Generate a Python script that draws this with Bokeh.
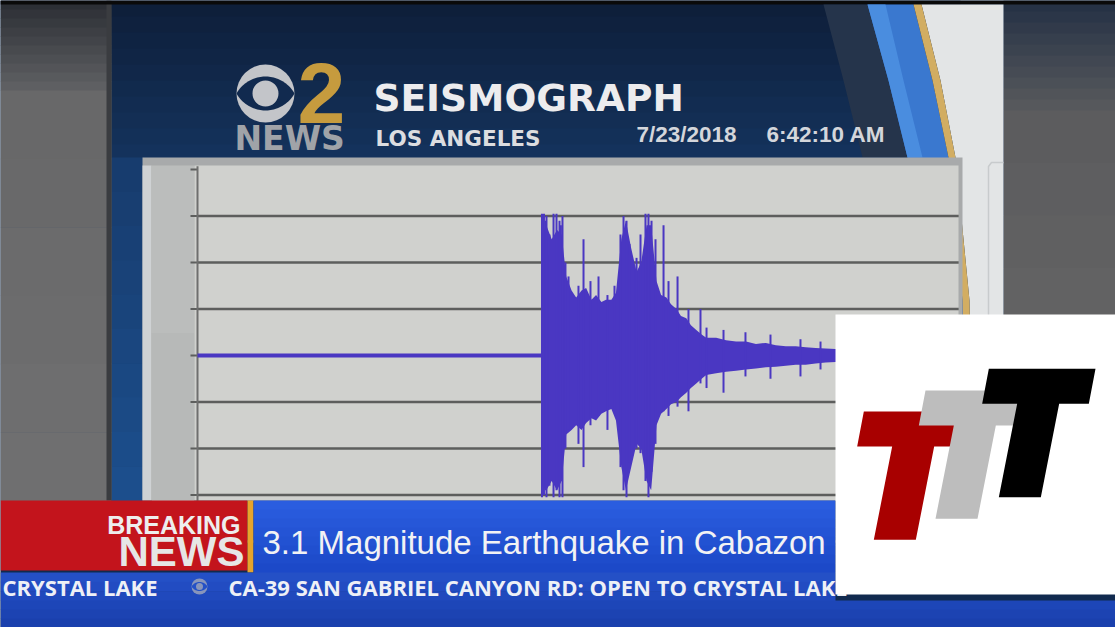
import numpy as np
from bokeh.plotting import figure
from bokeh.models import Range1d
from bokeh.core.properties import value
from bokeh.embed import file_html
from bokeh.resources import INLINE

# ---------------- data ----------------
# Seismograph trace: time (s) vs amplitude (grid divisions)
# dense core envelope of the signal
env_t = [0.0, 44.9, 45.0, 45.6, 46.3, 47.0, 47.6, 48.2, 48.9, 49.5, 50.2, 50.8,
         51.5, 52.1, 52.8, 53.4, 54.1, 54.7, 55.4, 56.0, 56.7, 57.4,
         58.0, 58.7, 59.3, 60.0, 60.6, 61.3, 61.9, 62.6, 63.2, 63.9,
         64.5, 65.2, 65.9, 66.5,
         67.8, 69.1, 70.4, 71.7, 73.0, 74.3, 75.6, 76.9, 78.2, 79.5,
         80.8, 82.1, 83.4, 86.0, 90.0, 95.0, 100.0]
env_up = [0.045, 0.045, 2.6, 2.8, 2.5, 2.7, 2.6, 1.7, 1.4, 1.25, 1.4, 1.45,
          1.2, 1.3, 1.15, 1.2, 1.2, 1.35, 2.5, 2.9, 2.3, 1.8,
          2.0, 2.8, 2.8, 1.6, 1.3, 1.25, 1.1, 1.0, 0.85, 0.8,
          0.65, 0.55, 0.45, 0.38,
          0.38, 0.33, 0.3, 0.3, 0.25, 0.27, 0.22, 0.2, 0.2, 0.18,
          0.16, 0.15, 0.14, 0.13, 0.12, 0.1, 0.1]
env_dn = [-0.045, -0.045, -2.8, -2.9, -2.7, -2.9, -2.7, -1.7, -1.6, -1.5, -1.6, -1.45,
          -1.35, -1.4, -1.25, -1.2, -1.15, -1.4, -2.4, -2.9, -2.4, -1.9,
          -2.0, -2.7, -2.9, -1.5, -1.25, -1.15, -1.05, -1.0, -0.9, -0.8,
          -0.7, -0.6, -0.5, -0.42,
          -0.38, -0.35, -0.33, -0.3, -0.28, -0.25, -0.24, -0.22, -0.2, -0.2,
          -0.17, -0.15, -0.14, -0.13, -0.12, -0.1, -0.1]
# individual peak excursions
spike_t = [45.03, 45.29, 45.5, 45.62, 46.01, 46.54, 46.93, 47.32, 47.5, 47.71, 48.10,
           48.50, 49.80, 50.46, 51.37, 52.42, 53.59, 54.51,
           55.29, 55.69, 56.08, 56.47, 56.99, 57.39, 57.91, 58.56, 58.95, 59.35,
           59.87, 60.92, 61.57, 62.75, 64.18, 65.75, 66.54, 68.76, 71.63, 74.90,
           78.82, 81.44]
spike_hi = [3.05, 3.05, 2.9, 3.0, 2.6, 3.05, 3.05, 2.9, 2.8, 3.0, 2.0,
            1.7, 1.5, 2.5, 1.6, 1.7, 1.3, 1.5,
            2.6, 3.0, 2.9, 2.4, 1.9, 2.1, 2.6, 3.05, 3.05, 2.9,
            2.5, 2.8, 1.6, 1.7, 1.0, 1.0, 0.6, 0.55, 0.5, 0.45,
            0.35, 0.3]
spike_lo = [-3.05, -3.0, -2.9, -3.05, -2.8, -3.05, -2.9, -3.05, -2.7, -3.05, -2.0,
            -1.6, -1.9, -2.4, -1.5, -1.3, -1.6, -1.2,
            -2.4, -2.9, -3.05, -2.3, -2.0, -2.0, -2.1, -2.7, -3.05, -2.5,
            -1.9, -1.2, -1.3, -1.1, -1.2, -0.6, -0.7, -0.8, -0.45, -0.5,
            -0.45, -0.3]
amp_ticks = [-4, -3, -2, -1, 0, 1, 2, 3, 4]
grid_ticks = [-4, -3, -2, -1, 0, 1, 2, 3]
t_start, t_end = 0.0, 100.0

title_text = "SEISMOGRAPH"
place_text = "LOS ANGELES"
date_text = "7/23/2018"
time_text = "6:42:10 AM"
logo_num = "2"
logo_word = "NEWS"
breaking_1 = "BREAKING"
breaking_2 = "NEWS"
headline = "3.1 Magnitude Earthquake in Cabazon"
ticker_left = "CRYSTAL LAKE"
ticker_right = "CA-39 SAN GABRIEL CANYON RD: OPEN TO CRYSTAL LAKE"

# ---------------- layout (reference pixel space) ----------------
W, H = 1115, 627
AX_X0, AX_X1 = 197, 962        # pixel of t_start / t_end
AMP0_Y, DIV = 355, 46.5        # pixel of amplitude 0, pixels per division
TRACE = "#4a37c2"
BASE_SHIFT = 0.34              # renderer places the alphabetic baseline this many em lower

p = figure(width=W, height=H,
           x_range=Range1d(0, W), y_range=Range1d(H, 0),
           x_axis_location=None, y_axis_location=None,
           output_backend="svg", toolbar_location=None, min_border=0,
           background_fill_color="#112a4f", border_fill_color="#112a4f")
p.grid.visible = False
p.outline_line_color = None

pxs = (AX_X1 - AX_X0) / (t_end - t_start)
p.extra_x_ranges = {"t": Range1d(t_start + (0 - AX_X0) / pxs, t_start + (W - AX_X0) / pxs)}
p.extra_y_ranges = {"amp": Range1d((AMP0_Y - H) / DIV, (AMP0_Y - 0) / DIV)}


def rect(l, r, t, b, color):
    p.quad(left=[l], right=[r], top=[t], bottom=[b], fill_color=color, line_color=None)


def mix(c0, c1, f):
    a = [int(c0[i:i + 2], 16) for i in (1, 3, 5)]
    b = [int(c1[i:i + 2], 16) for i in (1, 3, 5)]
    return "#%02x%02x%02x" % tuple(int(round(a[k] + (b[k] - a[k]) * f)) for k in range(3))


def vgrad(l, r, t, b, c0, c1, n=12):
    edges = np.linspace(t, b, n + 1)
    for i in range(n):
        rect(l, r, edges[i], edges[i + 1] + 0.5, mix(c0, c1, i / max(n - 1, 1)))


def poly(xs, ys, color):
    p.patch(x=xs, y=ys, fill_color=color, line_color=None)


def txt(x, y, s, size, color, font, style="normal", align="left"):
    p.text(x=[x], y=[y - BASE_SHIFT * size], text=[s], text_font=value(font),
           text_font_size=f"{size}px", text_color=color, text_font_style=style,
           text_align=align, text_baseline="alphabetic")


def eye(cx, cy, r, h, pr, col, bg):
    p.ellipse(x=[cx], y=[cy], width=2 * r, height=2 * r, fill_color=col, line_color=None)
    R = (r * r + h * h) / (2 * h)
    xs = np.linspace(cx - r, cx + r, 40)
    d = np.sqrt(np.maximum(R * R - (xs - cx) ** 2, 0))
    up = (cy - h + R) - d
    lo = (cy + h - R) + d
    poly(list(xs) + list(xs[::-1]), list(up) + list(lo[::-1]), bg)
    p.ellipse(x=[cx], y=[cy], width=2 * pr, height=2 * pr, fill_color=col, line_color=None)


# ---------------- backgrounds ----------------
vgrad(111, 960, 0, 160, "#0e1f3a", "#14325c", 10)
vgrad(111, 143, 157, 500, "#173c6e", "#1c4e8c", 10)
# left blurred area
vgrad(0, 111, 0, 90, "#2c2f35", "#5e5f62", 10)
vgrad(0, 111, 90, 500, "#686869", "#6f6f70", 6)
rect(106, 111, 0, 500, "#3a3c40")
# right blurred area
vgrad(1003, 1115, 0, 110, "#263245", "#56585c", 10)
vgrad(1003, 1115, 110, 320, "#5c5c5e", "#626263", 4)
# top black strip
rect(0, W, 0, 4, "#0a0a0a")

# swoosh
poly([823, 867, 888, 907, 862, 843], [4, 4, 80, 157, 157, 80], "#25344b")
poly([867, 913, 932, 948, 962, 966, 935, 925, 907, 888],
     [4, 4, 80, 157, 300, 500, 500, 300, 157, 80], "#3a78cf")
poly([867, 885, 903, 922, 907, 888], [4, 4, 80, 157, 157, 80], "#4a8ddf")
poly([921, 1003, 1003, 973, 969, 955, 940], [4, 4, 500, 500, 300, 157, 80], "#e3e5e6")
poly([913, 921, 940, 955, 969, 973, 966, 962, 948, 932],
     [4, 4, 80, 157, 300, 500, 500, 300, 157, 80], "#d2ad62")
p.line(x=[1003, 991, 988, 988], y=[162, 162, 166, 500], line_color="#c8cbcd", line_width=1.5)

# ---------------- chart panel ----------------
rect(142, 962, 157, 500, "#a8aaab")
rect(142, 151, 165, 500, "#cfd2d4")
vgrad(151, 194, 165, 500, "#bbbdbc", "#b7b9b8", 2)
rect(194, 958, 165, 500, "#d0d1ce")

# grid, axis and ticks in data units
p.segment(x0=[t_start] * len(grid_ticks), x1=[t_end - 0.5] * len(grid_ticks),
          y0=grid_ticks, y1=grid_ticks, x_range_name="t", y_range_name="amp",
          line_color="#5d5e5d", line_width=2.5)
p.segment(x0=[AX_X0 - 7] * len(amp_ticks), x1=[AX_X0] * len(amp_ticks),
          y0=amp_ticks, y1=amp_ticks, y_range_name="amp", line_color="#5d5e5d", line_width=2)
p.segment(x0=[AX_X0], x1=[AX_X0], y0=[-4.2], y1=[4.07], y_range_name="amp",
          line_color="#6e6f6e", line_width=2)

# trace
p.varea(x=env_t, y1=env_dn, y2=env_up, x_range_name="t", y_range_name="amp",
        fill_color=TRACE)
p.segment(x0=spike_t, x1=spike_t, y0=spike_lo, y1=spike_hi, x_range_name="t",
          y_range_name="amp", line_color=TRACE, line_width=2)

# ---------------- header ----------------
eye(265, 93, 29, 17, 13, "#c3c5c9", "#112a4f")
txt(297, 122, logo_num, 86, "#c69b3e", "Liberation Sans", "bold")
txt(234, 149, logo_word, 33, "#a0a3a8", "DejaVu Sans", "bold")
txt(373, 110, title_text, 37.5, "#ececee", "DejaVu Sans", "bold")
txt(375, 145, place_text, 21.5, "#dcdde0", "DejaVu Sans", "bold")
txt(636, 142, date_text, 22.5, "#d4d6db", "Liberation Sans", "bold")
txt(766, 142, time_text, 22.5, "#d4d6db", "Liberation Sans", "bold")

# ---------------- breaking news banner ----------------
rect(0, 247, 500, 570, "#c3141c")
rect(247, 253, 500, 572, "#e6a42c")
vgrad(253, 835, 500, 572, "#2a5ddf", "#1c49c8", 8)
vgrad(0, 835, 572, 600, "#2450c6", "#2049bd", 3)
vgrad(0, W, 600, H, "#1d46b8", "#1a40ad", 3)
txt(240, 533, breaking_1, 25, "#eeeeee", "Liberation Sans", "bold", "right")
txt(244, 565, breaking_2, 42, "#e6e6e6", "Liberation Sans", "bold", "right")
txt(262, 553, headline, 33, "#f2f2f4", "Liberation Sans")
txt(2, 594, ticker_left, 22, "#eef0f6", "Open Sans", "bold")
eye(199, 586, 8, 4.5, 3.5, "#8895bb", "#2450c6")
txt(228, 594, ticker_right, 22, "#eef0f6", "Open Sans", "bold")

# ---------------- TTT logo box ----------------
rect(835, W, 314, 594, "#ffffff")
shape = [(0, 0), (320, 0), (300, 105), (211, 105), (156, 385), (30, 385), (85, 105), (-20, 105)]
for (ox, oy), col in [((100, 303), "#a80000"), ((285, 240), "#bdbdbd"), ((475, 175), "#000000")]:
    poly([830 + (ox + sx) / 3 for sx, sy in shape], [310 + (oy + sy) / 3 for sx, sy in shape], col)

open("out.html", "w").write(file_html(p, INLINE))
